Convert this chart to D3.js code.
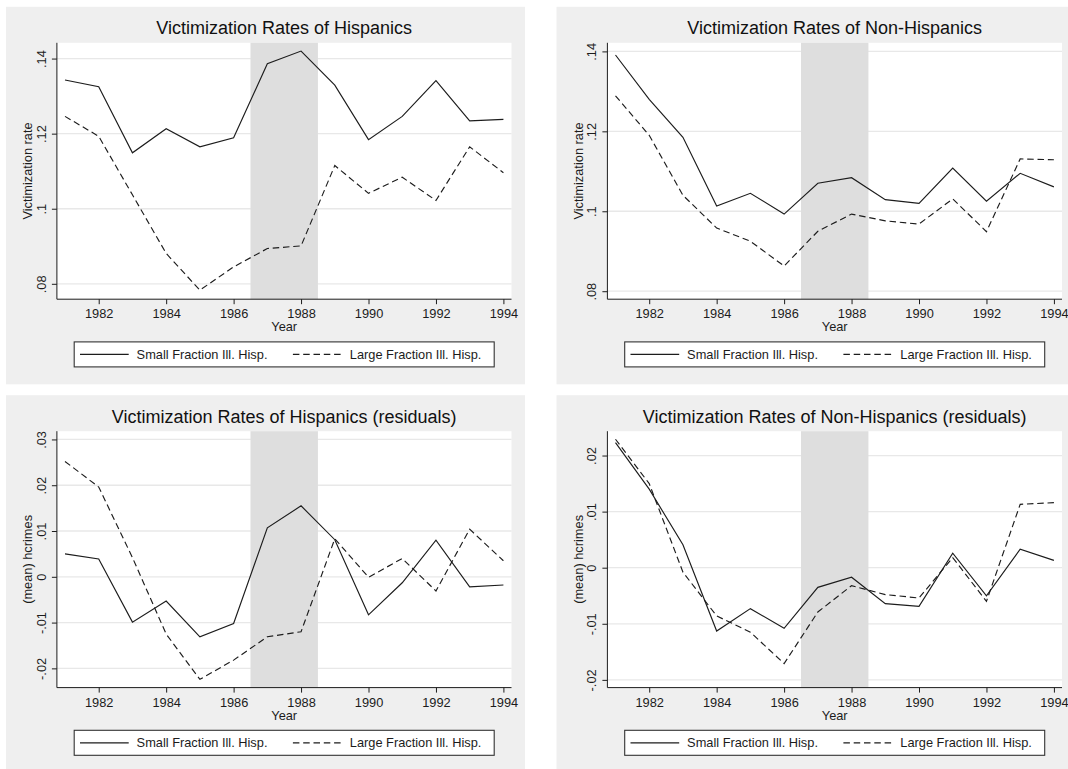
<!DOCTYPE html>
<html>
<head>
<meta charset="utf-8">
<script src="https://cdn.jsdelivr.net/npm/d3@7"></script>
<style>
  html, body { margin: 0; padding: 0; background: #fff; }
  svg { display: block; font-family: "Liberation Sans", Arial, sans-serif; }
</style>
</head>
<body>
<svg id="chart" width="1068" height="769"></svg>
<script>
// Victimization rates, 4-panel Stata-style figure.

const years = [1981, 1982, 1983, 1984, 1985, 1986, 1987, 1988, 1989, 1990, 1991, 1992, 1993, 1994];
const yearTicks = [1982, 1984, 1986, 1988, 1990, 1992, 1994];
const shadedYears = [1986.5, 1988.5];
const seriesNames = ["Small Fraction Ill. Hisp.", "Large Fraction Ill. Hisp."];

const rateTicks = [0.08, 0.10, 0.12, 0.14];
const rateTickLabels = [".08", ".1", ".12", ".14"];
const resHispTicks = [-0.02, -0.01, 0, 0.01, 0.02, 0.03];
const resHispTickLabels = ["-.02", "-.01", "0", ".01", ".02", ".03"];
const resNonTicks = [-0.02, -0.01, 0, 0.01, 0.02];
const resNonTickLabels = ["-.02", "-.01", "0", ".01", ".02"];

const hispSmall    = [.1343, .1325, .1149, .1213, .1165, .1189, .1386, .1420, .1329, .1184, .1246, .1341, .1234, .1238];
const hispLarge    = [.1246, .1193, .1037, .0881, .0783, .0845, .0894, .0901, .1115, .1041, .1084, .1022, .1165, .1096];
const nonHispSmall = [.1391, .1280, .1185, .1013, .1045, .0993, .1070, .1084, .1029, .1020, .1108, .1025, .1095, .1061];
const nonHispLarge = [.1289, .1190, .1040, .0958, .0925, .0863, .0950, .0993, .0976, .0968, .1031, .0949, .1131, .1129];

const hispResSmall    = [.0050, .0039, -.0099, -.0053, -.0131, -.0102, .0107, .0155, .0081, -.0083, -.0013, .0080, -.0022, -.0018];
const hispResLarge    = [.0252, .0196, .0042, -.0125, -.0224, -.0182, -.0131, -.0120, .0083, -.0001, .0040, -.0031, .0104, .0035];
const nonHispResSmall = [.0223, .0140, .0041, -.0113, -.0073, -.0108, -.0035, -.0017, -.0064, -.0069, .0026, -.0050, .0033, .0013];
const nonHispResLarge = [.0229, .0150, -.0008, -.0086, -.0115, -.0171, -.0079, -.0032, -.0048, -.0054, .0018, -.0060, .0113, .0116];

const panels = [
  { title: "Victimization Rates of Hispanics", ylab: "Victimization rate", col: 0, row: 0,
    ydom: [.0759, .1442], ticks: rateTicks, labels: rateTickLabels, small: hispSmall, large: hispLarge },
  { title: "Victimization Rates of Non-Hispanics", ylab: "Victimization rate", col: 1, row: 0,
    ydom: [.0780, .14215], ticks: rateTicks, labels: rateTickLabels, small: nonHispSmall, large: nonHispLarge },
  { title: "Victimization Rates of Hispanics (residuals)", ylab: "(mean) hcrimes", col: 0, row: 1,
    ydom: [-.0242, .0318], ticks: resHispTicks, labels: resHispTickLabels, small: hispResSmall, large: hispResLarge },
  { title: "Victimization Rates of Non-Hispanics (residuals)", ylab: "(mean) hcrimes", col: 1, row: 1,
    ydom: [-.02138, .02434], ticks: resNonTicks, labels: resNonTickLabels, small: nonHispResSmall, large: nonHispResLarge },
];

// layout (px)
const colX = [6, 556.5], rowY = [6.8, 395.2];
const PW = 519, PH = 377.5;
const plot = { l: 50.9, r: 505.5, t: 36, b: 292.4 };
const INK = "#1c1c1c";
const DASH = "6.5,3.8";
const FS = 12.8;

const svg = d3.select("#chart");

for (const p of panels) {
  const g = svg.append("g").attr("transform", `translate(${colX[p.col]},${rowY[p.row]})`);
  const x = d3.scaleLinear().domain([1980.76, 1994.24]).range([plot.l, plot.r]);
  const y = d3.scaleLinear().domain(p.ydom).range([plot.b, plot.t]);
  const cx = (plot.l + plot.r) / 2;

  // panel + plot backgrounds
  g.append("rect").attr("width", PW).attr("height", PH).attr("fill", "#efefef");
  g.append("rect").attr("x", plot.l).attr("y", plot.t)
    .attr("width", plot.r - plot.l).attr("height", plot.b - plot.t).attr("fill", "#fff");

  // gridlines
  g.append("g").selectAll("line").data(p.ticks).join("line")
    .attr("x1", plot.l).attr("x2", plot.r)
    .attr("y1", d => y(d)).attr("y2", d => y(d))
    .attr("stroke", "#e8e8e8").attr("stroke-width", 1.3);

  // shaded period
  g.append("rect")
    .attr("x", x(shadedYears[0])).attr("y", plot.t)
    .attr("width", x(shadedYears[1]) - x(shadedYears[0]))
    .attr("height", plot.b - plot.t)
    .attr("fill", "#dedede");

  // series
  const line = d3.line().x((d, i) => x(years[i])).y(d => y(d));
  g.append("path").datum(p.small).attr("d", line)
    .attr("fill", "none").attr("stroke", INK).attr("stroke-width", 1.15);
  g.append("path").datum(p.large).attr("d", line)
    .attr("fill", "none").attr("stroke", INK).attr("stroke-width", 1.15)
    .attr("stroke-dasharray", DASH);

  // axes
  const xAxis = g.append("g").attr("transform", `translate(0,${plot.b})`)
    .call(d3.axisBottom(x).tickValues(yearTicks).tickFormat(d3.format("d")).tickSize(5).tickSizeOuter(0))
    .attr("font-family", null).attr("font-size", FS);
  xAxis.select(".domain").attr("d", `M${plot.l},0H${plot.r}`);
  xAxis.selectAll("text").attr("y", 19).attr("dy", 0).attr("fill", INK);

  const yAxis = g.append("g").attr("transform", `translate(${plot.l},0)`)
    .call(d3.axisLeft(y).tickValues(p.ticks).tickFormat((d, i) => p.labels[i]).tickSize(5).tickSizeOuter(0))
    .attr("font-family", null).attr("font-size", FS);
  yAxis.select(".domain").attr("d", `M0,${plot.t}V${plot.b}`);
  yAxis.selectAll("text")
    .attr("x", 0).attr("y", 0).attr("dy", 0)
    .attr("transform", "translate(-11,0) rotate(-90)")
    .attr("text-anchor", "middle").attr("fill", INK);
  g.selectAll(".domain, .tick line").attr("stroke", INK).attr("stroke-width", 1);

  // titles
  g.append("text").attr("x", cx).attr("y", 27.5).attr("text-anchor", "middle")
    .attr("font-size", 18).attr("fill", "#111").text(p.title);
  g.append("text").attr("x", cx).attr("y", plot.b + 32).attr("text-anchor", "middle")
    .attr("font-size", FS).attr("fill", INK).text("Year");
  g.append("text").attr("transform", `translate(${plot.l - 24.5},${(plot.t + plot.b) / 2}) rotate(-90)`)
    .attr("text-anchor", "middle").attr("font-size", FS).attr("fill", INK).text(p.ylab);

  // legend
  const lg = g.append("g").attr("transform", `translate(${cx - 210},${plot.b + 42.7})`);
  lg.append("rect").attr("width", 420).attr("height", 25)
    .attr("fill", "#fff").attr("stroke", "#333").attr("stroke-width", 1.1);
  const items = [{ x0: 5.8, tx: 62.4, dash: null }, { x0: 218.7, tx: 275.6, dash: DASH }];
  items.forEach((it, i) => {
    lg.append("line").attr("x1", it.x0).attr("x2", it.x0 + 48.7).attr("y1", 12.5).attr("y2", 12.5)
      .attr("stroke", INK).attr("stroke-width", 1.15).attr("stroke-dasharray", it.dash);
    lg.append("text").attr("x", it.tx).attr("y", 17).attr("font-size", FS)
      .attr("fill", INK).text(seriesNames[i]);
  });
}
</script>
</body>
</html>
